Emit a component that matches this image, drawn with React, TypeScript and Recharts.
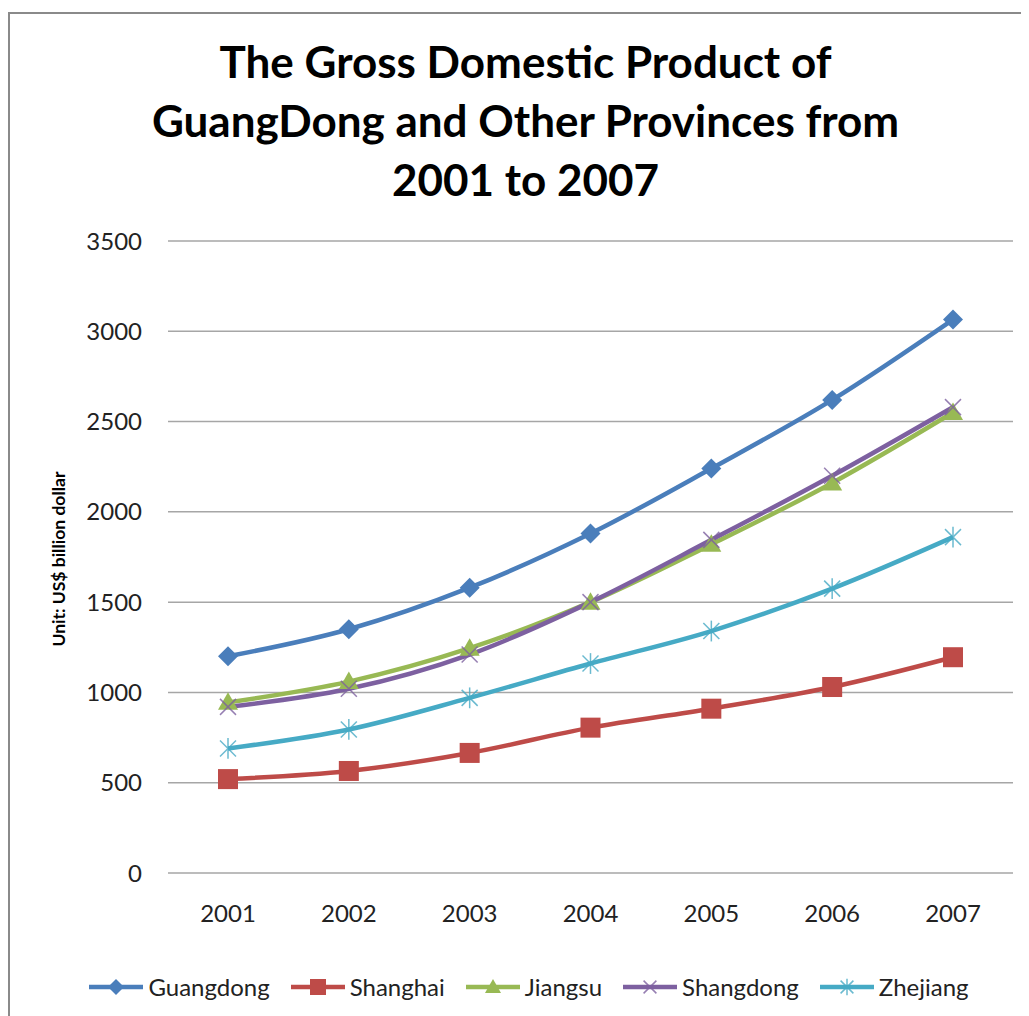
import { LineChart, Line, XAxis, YAxis, CartesianGrid } from "recharts";

const years = ["2001", "2002", "2003", "2004", "2005", "2006", "2007"];
const guangdong = [1200, 1350, 1580, 1880, 2240, 2620, 3065];
const shanghai = [520, 565, 665, 805, 910, 1030, 1195];
const jiangsu = [945, 1060, 1245, 1500, 1820, 2160, 2550];
const shangdong = [920, 1020, 1210, 1500, 1845, 2200, 2580];
const zhejiang = [690, 795, 970, 1160, 1340, 1575, 1860];
const yTicks = [0, 500, 1000, 1500, 2000, 2500, 3000, 3500];

const titleLines = [
  "The Gross Domestic Product of",
  "GuangDong and Other Provinces from",
  "2001 to 2007",
];
const yLabel = "Unit: US$ billion dollar";

const series = [
  { key: "guangdong", name: "Guangdong", color: "#4a7ebb", values: guangdong, marker: "diamond" },
  { key: "shanghai", name: "Shanghai", color: "#be4b48", values: shanghai, marker: "square" },
  { key: "jiangsu", name: "Jiangsu", color: "#98b954", values: jiangsu, marker: "triangle" },
  { key: "shangdong", name: "Shangdong", color: "#7d60a0", values: shangdong, marker: "cross" },
  { key: "zhejiang", name: "Zhejiang", color: "#46aac5", values: zhejiang, marker: "star" },
];

const data = years.map((year, i) => {
  const row: Record<string, string | number> = { year };
  series.forEach((s) => {
    row[s.key] = s.values[i];
  });
  return row;
});

const FONT = "Lato, 'Open Sans', sans-serif";

function Marker({ type, cx, cy, color, s = 1 }: { type: string; cx: number; cy: number; color: string; s?: number }) {
  if (type === "diamond") {
    const r = 10 * s;
    return <path d={`M${cx} ${cy - r}L${cx + r} ${cy}L${cx} ${cy + r}L${cx - r} ${cy}Z`} fill={color} />;
  }
  if (type === "square") {
    const r = 10 * s;
    return <rect x={cx - r} y={cy - r} width={2 * r} height={2 * r} fill={color} />;
  }
  if (type === "triangle") {
    const r = 10 * s;
    return <path d={`M${cx} ${cy - r}L${cx + r} ${cy + r * 0.75}L${cx - r} ${cy + r * 0.75}Z`} fill={color} />;
  }
  if (type === "cross") {
    const r = 8 * s;
    return (
      <g stroke={color} strokeWidth={1.5} opacity={0.8}>
        <line x1={cx - r} y1={cy - r} x2={cx + r} y2={cy + r} />
        <line x1={cx - r} y1={cy + r} x2={cx + r} y2={cy - r} />
      </g>
    );
  }
  const r = 8 * s;
  return (
    <g stroke={color} strokeWidth={1.5} opacity={0.8}>
      <line x1={cx - r} y1={cy - r} x2={cx + r} y2={cy + r} />
      <line x1={cx - r} y1={cy + r} x2={cx + r} y2={cy - r} />
      <line x1={cx} y1={cy - r * 1.3} x2={cx} y2={cy + r * 1.3} />
    </g>
  );
}

export default function App() {
  return (
    <div style={{ position: "relative", width: 1021, height: 1008, overflow: "hidden", fontFamily: FONT }}>
      {/* chart frame, only left and top edges are in view */}
      <div
        style={{
          position: "absolute",
          left: 0,
          top: 4,
          width: 1100,
          height: 1100,
          borderLeft: "2px solid #8a8a8a",
          borderTop: "2px solid #8a8a8a",
        }}
      />

      <div
        style={{
          position: "absolute",
          left: 7,
          top: 24,
          width: 1021,
          textAlign: "center",
          fontWeight: 700,
          fontSize: 44,
          lineHeight: "59px",
          color: "#000",
        }}
      >
        {titleLines.map((t) => (
          <div key={t}>{t}</div>
        ))}
      </div>

      <div
        style={{
          position: "absolute",
          left: 50,
          top: 551,
          transform: "translate(-50%, -50%) rotate(-90deg)",
          whiteSpace: "nowrap",
          fontWeight: 700,
          fontSize: 17.5,
          color: "#000",
        }}
      >
        {yLabel}
      </div>

      <div style={{ position: "absolute", left: 0, top: 0 }}>
        <LineChart width={1021} height={1008} data={data} margin={{ top: 233, right: 16, left: 0, bottom: 83 }}>
          <CartesianGrid vertical={false} stroke="#a6a6a6" strokeWidth={1.5} />
          <XAxis
            dataKey="year"
            height={60}
            padding={{ left: 60, right: 60 }}
            axisLine={false}
            tickLine={false}
            tickSize={0}
            tickMargin={32}
            tick={{ fontSize: 24, fill: "#222", fontFamily: FONT }}
          />
          <YAxis
            width={160}
            domain={[0, 3500]}
            ticks={yTicks}
            axisLine={false}
            tickLine={false}
            tickSize={0}
            tickMargin={26}
            tick={{ fontSize: 24, fill: "#222", fontFamily: FONT }}
          />
          {series.map((s) => (
            <Line
              key={s.key}
              type="monotone"
              dataKey={s.key}
              name={s.name}
              stroke={s.color}
              strokeWidth={4.5}
              isAnimationActive={false}
              dot={(p: any) => (
                <Marker key={`${s.key}-${p.index}`} type={s.marker} cx={p.cx} cy={p.cy} color={s.color} />
              )}
              activeDot={false}
            />
          ))}
        </LineChart>
      </div>

      <div
        style={{
          position: "absolute",
          left: 0,
          top: 964,
          width: 1042,
          display: "flex",
          justifyContent: "center",
          gap: 21,
          fontSize: 24,
          color: "#222",
        }}
      >
        {series.map((s) => (
          <div key={s.key} style={{ display: "flex", alignItems: "center", gap: 5 }}>
            <svg width={54} height={24}>
              <line x1={0} y1={12} x2={54} y2={12} stroke={s.color} strokeWidth={4.5} />
              <Marker type={s.marker} cx={27} cy={12} color={s.color} s={0.8} />
            </svg>
            <span>{s.name}</span>
          </div>
        ))}
      </div>
    </div>
  );
}
